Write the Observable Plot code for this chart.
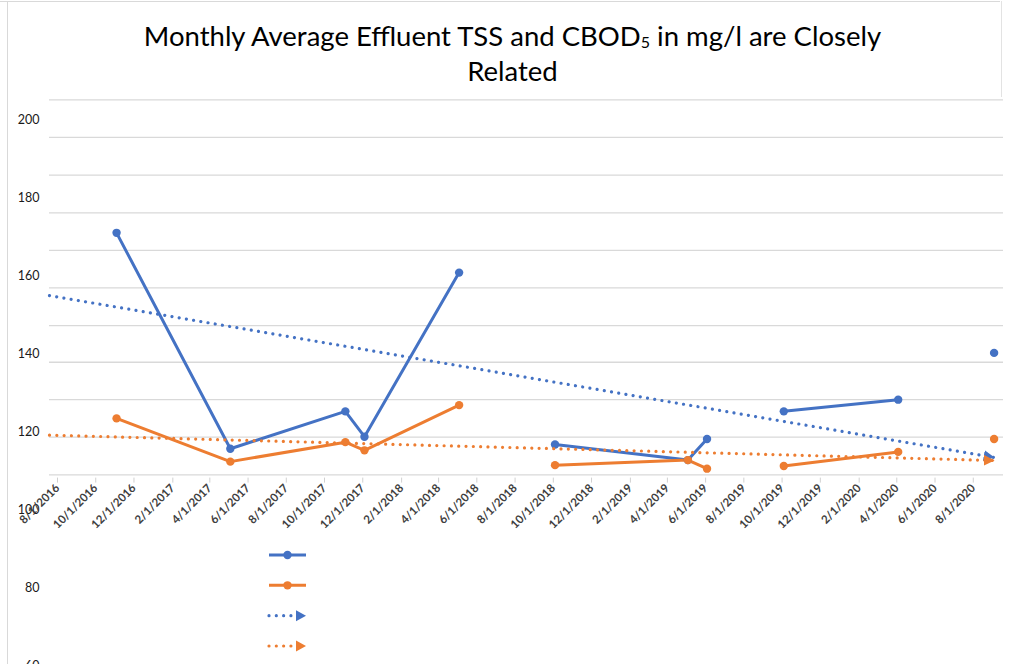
<!DOCTYPE html>
<html>
<head>
<meta charset="utf-8">
<script src="https://cdn.jsdelivr.net/npm/d3@7"></script>
<script src="https://cdn.jsdelivr.net/npm/@observablehq/plot@0.6"></script>
<style>
  body { margin: 0; background: #fff; }
  #wrap { position: relative; width: 1010px; height: 664px; overflow: hidden; font-family: Lato, "Open Sans", sans-serif; }
  #title { position: absolute; left: 0; top: 18px; width: 1025px; text-align: center; font-size: 27.5px; line-height: 35px; color: #000; z-index: 2; }
  #title sub { font-size: 16px; vertical-align: -2px; line-height: 0; }
  #chart { position: absolute; left: 0; top: 0; }
  #legend { position: absolute; left: 0; top: 0; }
  #frameLeft { position: absolute; left: 7px; top: 2px; width: 0; height: 700px; border-left: 1px solid #d9d9d9; }
  #frameTop { position: absolute; left: 0; top: 1px; width: 1000px; height: 0; border-top: 1px solid #d9d9d9; }
  #frameRight { position: absolute; left: 1001px; top: 1px; width: 0; height: 96px; border-left: 1px solid #e3e3e3; }
</style>
</head>
<body>
<div id="wrap">
  <div id="frameLeft"></div><div id="frameTop"></div><div id="frameRight"></div>
  <div id="chart"></div>
  <div id="title">Monthly Average Effluent TSS and CBOD<sub>5</sub> in mg/l are Closely<br>Related</div>
  <div id="legend"></div>
</div>
<script>
// ---- data ----
const months   = ["2016-11","2017-05","2017-11","2017-12","2018-05","2018-10","2019-05","2019-06","2019-10","2020-04","2020-09"];
const segment  = [0, 0, 0, 0, 0, 1, 1, 1, 2, 2, 3];
const tss      = [171.0, 115.6, 125.2, 118.7, 160.8, 116.7, 112.7, 118.1, 125.2, 128.2, 140.2];
const cbod5    = [123.4, 112.3, 117.3, 115.2, 126.8, 111.4, 112.7, 110.5, 111.2, 114.8, 118.1];
const trendDates = ["2016-08-01", "2020-09-15"];
const tssTrend   = [154.9, 113.4];
const cbodTrend  = [119.1, 112.6];
const yTickLabels = [200, 180, 160, 140, 120, 100, 80, 60];
const gridValues  = [205.1, 195.5, 185.8, 176.1, 166.5, 156.9, 147.2, 137.8, 128.2, 118.6, 108.9];
const xTickLabels = ["8/1/2016","10/1/2016","12/1/2016","2/1/2017","4/1/2017","6/1/2017","8/1/2017","10/1/2017","12/1/2017",
  "2/1/2018","4/1/2018","6/1/2018","8/1/2018","10/1/2018","12/1/2018","2/1/2019","4/1/2019","6/1/2019","8/1/2019",
  "10/1/2019","12/1/2019","2/1/2020","4/1/2020","6/1/2020","8/1/2020"];
const axisEnd = "10/1/2020";

const BLUE = "#4472C4", ORANGE = "#ED7D31";
const DOTS = "0.01,7.3";

// ---- build tables ----
const parseMonth = d3.utcParse("%Y-%m");
const parseMDY = d3.utcParse("%-m/%-d/%Y");
const parseISO = d3.utcParse("%Y-%m-%d");
const midMonth = m => { const s = parseMonth(m); const e = d3.utcMonth.offset(s, 1); return new Date((+s + +e) / 2); };
const data = months.map((m, i) => ({date: midMonth(m), tss: tss[i], cbod: cbod5[i], seg: segment[i]}));
const trend = trendDates.map((d, i) => ({date: parseISO(d), tss: tssTrend[i], cbod: cbodTrend[i]}));
const labelDates = xTickLabels.map(parseMDY);
const tickDates = [...labelDates, parseMDY(axisEnd)];
const fmt = d3.utcFormat("%-m/%-d/%Y");

const arrowMarker = (color, context) => {
  const doc = (context && context.document) || document;
  const ns = "http://www.w3.org/2000/svg";
  const m = doc.createElementNS(ns, "marker");
  m.setAttribute("viewBox", "0 -5 10 10");
  m.setAttribute("markerWidth", 3.4);
  m.setAttribute("markerHeight", 3.4);
  m.setAttribute("refX", 9);
  m.setAttribute("refY", 0);
  m.setAttribute("orient", "auto");
  m.setAttribute("markerUnits", "strokeWidth");
  const p = doc.createElementNS(ns, "path");
  p.setAttribute("d", "M0,-5L10,0L0,5Z");
  p.setAttribute("fill", color);
  p.setAttribute("stroke", "none");
  p.setAttribute("stroke-dasharray", "none");
  m.appendChild(p);
  return m;
};

const H = 720;
const chart = Plot.plot({
  width: 1010,
  height: H,
  marginLeft: 49,
  marginRight: 7,
  marginTop: 99.3,
  marginBottom: H - 475.6,
  style: {fontFamily: "Lato, 'Open Sans', sans-serif", background: "transparent", overflow: "visible"},
  x: {type: "utc", domain: [labelDates[0], parseMDY(axisEnd)]},
  y: {domain: [60, 200], range: [665, 119.3]},
  marks: [
    Plot.ruleY(gridValues, {stroke: "#d9d9d9", strokeWidth: 1.3}),
    Plot.axisY(yTickLabels, {tickSize: 0, tickPadding: 10, fontSize: 12.5, fill: "#1a1a1a", tickFormat: d => String(d), label: null}),
    Plot.axisX(tickDates, {tickSize: 5, stroke: "#d0d0d0", fill: "#404040", tickRotate: -45, fontSize: 11.5, fontWeight: "bold",
      tickPadding: 3, dx: 8, dy: 2, tickFormat: d => (+d < +parseMDY(axisEnd) ? fmt(d) : ""), label: null}),
    Plot.line(data, {x: "date", y: "tss", z: "seg", stroke: BLUE, strokeWidth: 3}),
    Plot.line(data, {x: "date", y: "cbod", z: "seg", stroke: ORANGE, strokeWidth: 3}),
    Plot.dot(data, {x: "date", y: "tss", r: 4.2, fill: BLUE}),
    Plot.dot(data, {x: "date", y: "cbod", r: 4.2, fill: ORANGE}),
    Plot.line(trend, {x: "date", y: "tss", stroke: BLUE, strokeWidth: 3.2, strokeLinecap: "round", strokeDasharray: DOTS, markerEnd: arrowMarker}),
    Plot.line(trend, {x: "date", y: "cbod", stroke: ORANGE, strokeWidth: 3.2, strokeLinecap: "round", strokeDasharray: DOTS, markerEnd: arrowMarker})
  ]
});
document.getElementById("chart").appendChild(chart);

// ---- legend (symbols only, no text, as in the reference) ----
const legendItems = [
  {color: BLUE, kind: "solid"},
  {color: ORANGE, kind: "solid"},
  {color: BLUE, kind: "trend"},
  {color: ORANGE, kind: "trend"}
];
const lg = d3.create("svg").attr("width", 1010).attr("height", 664);
const rowY = d3.scalePoint().domain(d3.range(legendItems.length)).range([555, 646]);
legendItems.forEach((it, i) => {
  const g = lg.append("g").attr("transform", `translate(0,${rowY(i)})`);
  if (it.kind === "solid") {
    g.append("line").attr("x1", 269).attr("x2", 306).attr("stroke", it.color).attr("stroke-width", 3);
    g.append("circle").attr("cx", 287.5).attr("r", 4.2).attr("fill", it.color);
  } else {
    g.append("line").attr("x1", 269).attr("x2", 297).attr("stroke", it.color).attr("stroke-width", 3.2)
      .attr("stroke-linecap", "round").attr("stroke-dasharray", DOTS);
    g.append("path").attr("d", "M296,-5.5L306,0L296,5.5Z").attr("fill", it.color);
  }
});
document.getElementById("legend").appendChild(lg.node());
</script>
</body>
</html>
